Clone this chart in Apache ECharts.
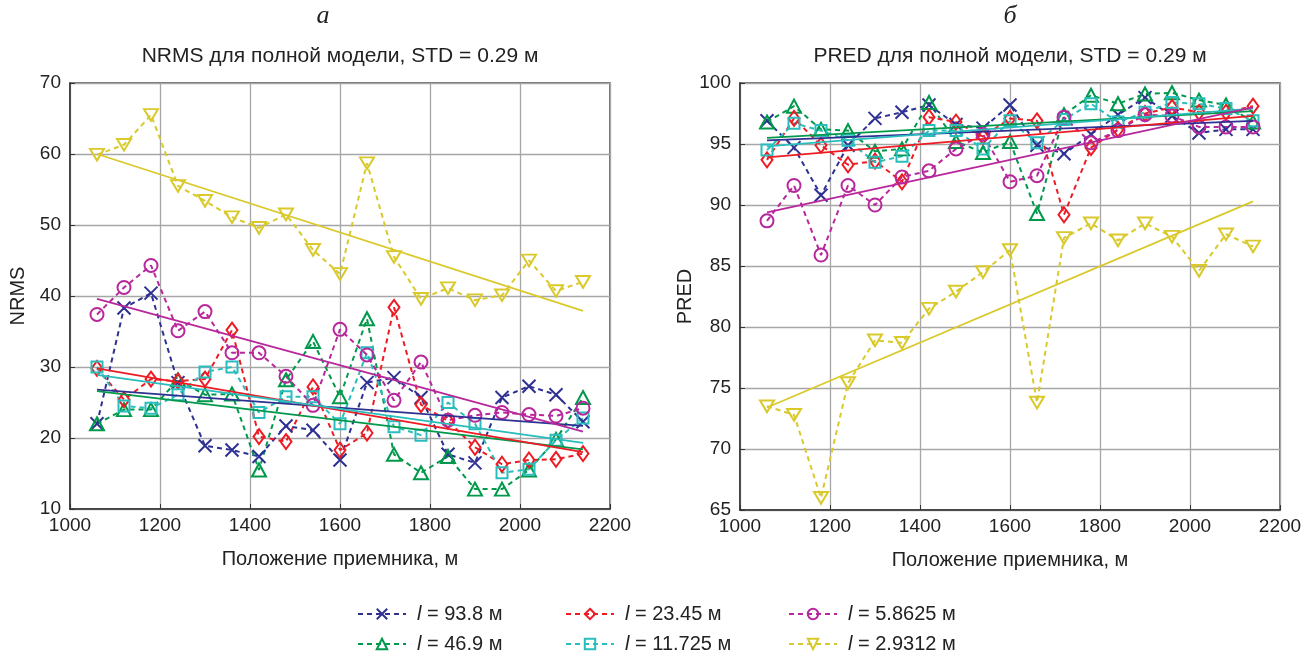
<!DOCTYPE html>
<html>
<head>
<meta charset="utf-8">
<script src="https://cdn.jsdelivr.net/npm/echarts@6/dist/echarts.min.js"></script>
<style>
    html, body { margin: 0; background: #fff; }
    #main { width: 1309px; height: 654px; }
</style>
</head>
<body>
<div id="main"></div>
<script>
// positions of the receiver, m
const positions = [1060, 1120, 1180, 1240, 1300, 1360, 1420, 1480, 1540, 1600, 1660, 1720, 1780, 1840, 1900, 1960, 2020, 2080, 2140];

// legend names (l = ...)
const lengths = ['93.8', '46.9', '23.45', '11.725', '5.8625', '2.9312'];

// NRMS, panel a
const nrms938   = [22, 38.3, 40.4, 27.8, 18.9, 18.3, 17.4, 21.7, 21.1, 16.9, 27.8, 28.5, 25.7, 17.7, 16.5, 25.7, 27.3, 26.1, 22.3];
const nrms469   = [22, 24, 24, 28.2, 26.1, 26.2, 15.5, 28.2, 33.6, 25.8, 36.8, 17.7, 15.1, 17.4, 12.8, 12.8, 15.5, 19.8, 25.7];
const nrms2345  = [29.8, 25.4, 28.3, 28, 28.3, 35.2, 20.2, 19.5, 27.2, 18.3, 20.7, 38.4, 24.7, 22.4, 18.7, 16.3, 16.9, 17.0, 17.8];
const nrms11725 = [30, 24.5, 24.2, 26.1, 29.3, 30, 23.6, 25.8, 25.8, 22, 32, 21.6, 20.4, 25, 22, 15.1, 15.6, 19.7, 22.8];
const nrms58625 = [37.4, 41.2, 44.3, 35.1, 37.8, 32, 32, 28.7, 24.6, 35.3, 31.7, 25.3, 30.7, 22.5, 23.2, 23.6, 23.3, 23.1, 24.2];
const nrms29312 = [59.9, 61.3, 65.5, 55.5, 53.4, 51.1, 49.6, 51.5, 46.5, 43.1, 58.7, 45.5, 39.6, 41.1, 39.4, 40.1, 45, 40.7, 42];
// trend lines (value at first and last position)
const nrmsTrends = [[26.8, 21.7], [26.6, 18.4], [29.8, 18.0], [28.9, 19.3], [39.6, 20.9], [60.0, 37.9]];

// PRED, panel б
const pred938   = [96.9, 94.7, 90.8, 94.9, 97.1, 97.6, 98.2, 96.6, 96.3, 98.2, 94.9, 94.2, 95.8, 97.4, 98.8, 97.3, 95.9, 96.2, 96.2];
const pred469   = [96.8, 98.1, 96.2, 96.1, 94.4, 94.6, 98.4, 95.2, 94.3, 95.2, 89.3, 97.4, 99.0, 98.3, 99.1, 99.2, 98.6, 98.2, 96.8];
const pred2345  = [93.7, 97.1, 94.9, 93.3, 93.6, 91.9, 97.2, 96.8, 95.6, 97.1, 96.9, 89.2, 94.7, 96.2, 97.5, 98.0, 97.6, 97.6, 98.1];
const pred11725 = [94.5, 96.7, 96.1, 95.3, 93.5, 94.0, 96.1, 96.1, 94.6, 96.9, 95.1, 97.0, 98.3, 96.8, 97.6, 98.4, 98.3, 97.9, 96.9];
const pred58625 = [88.7, 91.6, 85.9, 91.6, 90.0, 92.3, 92.8, 94.6, 95.8, 91.9, 92.4, 97.2, 95.1, 96.1, 97.4, 97.3, 96.4, 96.4, 96.4];
const pred29312 = [73.5, 72.8, 66, 75.4, 78.9, 78.7, 81.5, 82.9, 84.5, 86.3, 73.8, 87.3, 88.5, 87.1, 88.5, 87.4, 84.6, 87.6, 86.6];
const predTrends = [[95.3, 96.9], [95.5, 97.7], [93.9, 97.3], [94.8, 97.9], [89.4, 98.0], [73.4, 90.3]];

const colors = ['#2e3192', '#00994c', '#ed1c24', '#29bdbd', '#b8279b', '#d9c92b'];
const symbols = [
    'path://M0,0 L10,10 M10,0 L0,10',
    'triangle',
    'diamond',
    'rect',
    'circle',
    'path://M0,0 L10,0 L5,9 Z'
];
const symbolSizes = [[13, 13], [14, 13], [11, 15], [11, 11], [13, 13], [14, 13]];

const nrmsSets = [nrms938, nrms469, nrms2345, nrms11725, nrms58625, nrms29312];
const predSets = [pred938, pred469, pred2345, pred11725, pred58625, pred29312];

const names = lengths.map(l => 'l = ' + l + ' м');
const font = 'Liberation Sans, Arial, sans-serif';

function dashedSeries(i, values, gridIdx) {
    return {
        name: names[i],
        type: 'line',
        xAxisIndex: gridIdx, yAxisIndex: gridIdx,
        data: positions.map((x, k) => [x, values[k]]),
        symbol: symbols[i],
        symbolSize: symbolSizes[i],
        symbolKeepAspect: true,
        showSymbol: true,
        lineStyle: { color: colors[i], width: 2, type: [5, 4] },
        itemStyle: { color: 'rgba(255,255,255,0)', borderColor: colors[i], borderWidth: 2 },
        z: 3,
        animation: false
    };
}

function trendSeries(i, t, gridIdx) {
    return {
        name: 'trend' + gridIdx + '_' + i,
        type: 'line',
        xAxisIndex: gridIdx, yAxisIndex: gridIdx,
        data: [[positions[0], t[0]], [positions[positions.length - 1], t[1]]],
        showSymbol: false,
        symbol: 'none',
        lineStyle: { color: colors[i], width: 1.8 },
        z: 4,
        silent: true,
        animation: false
    };
}

const series = [];
nrmsSets.forEach((v, i) => series.push(dashedSeries(i, v, 0)));
predSets.forEach((v, i) => series.push(dashedSeries(i, v, 1)));
nrmsTrends.forEach((t, i) => series.push(trendSeries(i, t, 0)));
predTrends.forEach((t, i) => series.push(trendSeries(i, t, 1)));

function xAxis(gridIdx) {
    return {
        type: 'value', gridIndex: gridIdx,
        min: 1000, max: 2200, interval: 200,
        name: 'Положение приемника, м',
        nameLocation: 'middle', nameGap: 40,
        nameTextStyle: { fontSize: 20, color: '#222', fontFamily: font },
        axisLine: { show: true, lineStyle: { color: '#333', width: 1.5 } },
        axisTick: { show: true, inside: true, length: 5, lineStyle: { color: '#333' } },
        axisLabel: { fontSize: 19, color: '#222', fontFamily: font, margin: 7, formatter: v => String(v) },
        splitLine: { show: true, lineStyle: { color: '#a6a6a6', width: 1.3 } }
    };
}

function yAxis(gridIdx, name, min, max, interval, gap) {
    return {
        type: 'value', gridIndex: gridIdx,
        min: min, max: max, interval: interval,
        name: name, nameLocation: 'middle', nameGap: gap, nameRotate: 90,
        nameTextStyle: { fontSize: 20, color: '#222', fontFamily: font },
        axisLine: { show: true, lineStyle: { color: '#333', width: 1.5 } },
        axisTick: { show: true, inside: true, length: 5, lineStyle: { color: '#333' } },
        axisLabel: { fontSize: 19, color: '#222', fontFamily: font, margin: 9 },
        splitLine: { show: true, lineStyle: { color: '#a6a6a6', width: 1.3 } }
    };
}

// one legend per entry so the columns line up as in the figure
const legendSpots = [[352, 599], [352, 629], [560, 599], [560, 629], [783, 599], [783, 629]];
const legends = names.map((n, i) => ({
    data: [n], left: legendSpots[i][0], top: legendSpots[i][1],
    itemWidth: 48, itemHeight: 13, itemGap: 0,
    formatter: s => '{i|l}{t|' + s.slice(1) + '}',
    textStyle: {
        fontSize: 20, color: '#222', fontFamily: font,
        rich: {
            i: { fontStyle: 'italic', fontSize: 20, fontFamily: font, color: '#222', padding: [0, 0, 0, 6] },
            t: { fontSize: 20, fontFamily: font, color: '#222' }
        }
    }
}));

const chart = echarts.init(document.getElementById('main'));
chart.setOption({
    backgroundColor: '#fff',
    animation: false,
    grid: [
        { left: 70, right: 699, top: 83, bottom: 145, show: true, borderColor: '#444', borderWidth: 1.5, backgroundColor: 'transparent' },
        { left: 740, right: 29, top: 83, bottom: 144, show: true, borderColor: '#444', borderWidth: 1.5, backgroundColor: 'transparent' }
    ],
    xAxis: [xAxis(0), xAxis(1)],
    yAxis: [yAxis(0, 'NRMS', 10, 70, 10, 42), yAxis(1, 'PRED', 65, 100, 5, 44)],
    legend: legends,
    graphic: [
        { type: 'text', x: 323, y: 3, style: { text: 'а', font: 'italic 26px Liberation Serif, serif', fill: '#222', textAlign: 'center' } },
        { type: 'text', x: 1010, y: 3, style: { text: 'б', font: 'italic 26px Liberation Serif, serif', fill: '#222', textAlign: 'center' } },
        { type: 'text', x: 340, y: 46, style: { text: 'NRMS для полной модели, STD = 0.29 м', font: '21px Liberation Sans, Arial, sans-serif', fill: '#222', textAlign: 'center' } },
        { type: 'text', x: 1010, y: 46, style: { text: 'PRED для полной модели, STD = 0.29 м', font: '21px Liberation Sans, Arial, sans-serif', fill: '#222', textAlign: 'center' } }
    ],
    series: series
});
window.onresize = () => chart.resize();
</script>
</body>
</html>
